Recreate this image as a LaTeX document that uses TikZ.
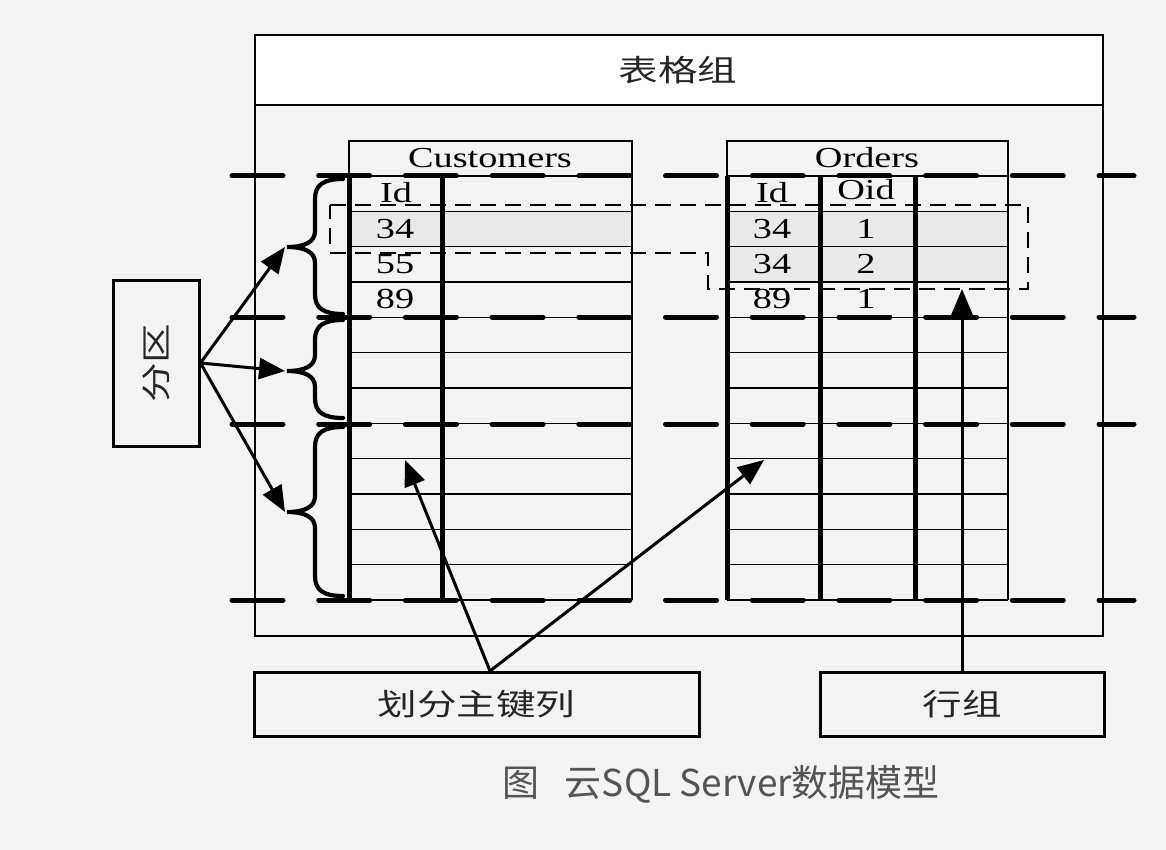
\documentclass[tikz,border=0pt]{standalone}
\usepackage{fontspec}
\usepackage{graphicx}
\setmainfont{Liberation Serif}
\newfontfamily\cjk{Noto Sans CJK SC}
\usetikzlibrary{arrows.meta}
\definecolor{bg}{HTML}{F3F3F3}
\definecolor{rowgray}{HTML}{E9E9E9}
\definecolor{captext}{HTML}{545454}
\definecolor{cjkink}{HTML}{262626}
\newcommand{\sx}[1]{\scalebox{1.32}[1]{#1}}
\tikzset{
  thinline/.style={line width=1.6pt},
  thickcol/.style={line width=5pt},
  partline/.style={line width=5pt, dash pattern=on 51pt off 35.7pt, line cap=round},
  rgline/.style={line width=1.5pt, dash pattern=on 16pt off 9pt},
  bracestyle/.style={line width=4.2pt, line cap=round},
  arr/.style={line width=3pt, -{Triangle[length=26pt,width=21pt]}},
  lat/.style={font=\fontsize{29}{30}\selectfont, inner sep=0pt},
  cjktext/.style={font=\cjk\fontsize{30}{32}\selectfont, text=cjkink, inner sep=0pt},
  labelbox/.style={draw, line width=3pt, inner sep=0pt, font=\cjk\fontsize{30}{32}\selectfont, text=cjkink},
}
\begin{document}
\begin{tikzpicture}[x=1pt,y=-1pt]
\useasboundingbox (0,0) rectangle (1166,850);
\fill[bg] (0,0) rectangle (1166,850);

% table group
\draw[thinline, fill=white] (255,35) rectangle (1103,105);
\draw[thinline] (255,105) -- (255,636) -- (1103,636) -- (1103,105);
\node[cjktext] (tg) at (678,70) {\sx{表格组}};

% gray rows
\fill[rowgray] (349,211.3) rectangle (632,246.7);
\fill[rowgray] (727,211.3) rectangle (1008,282);

% Customers table
\draw[thinline] (349,176) -- (349,141) -- (632,141) -- (632,600);
\foreach \k in {0,...,12} \draw[thinline] (349,{176+35.333*\k}) -- (632,{176+35.333*\k});
% Orders table
\draw[thinline] (727,176) -- (727,141) -- (1008,141) -- (1008,600);
\foreach \k in {0,...,12} \draw[thinline] (727,{176+35.333*\k}) -- (1008,{176+35.333*\k});

% thick columns
\foreach \x in {349,442,727,820,915} \draw[thickcol] (\x,176) -- (\x,600);

% texts
\node[lat] (cust) at (490,158) {\sx{Customers}};
\node[lat] (ord) at (867,158) {\sx{Orders}};
\node[lat] (cid) at (396,193) {\sx{Id}};
\node[lat] (c1) at (395,229) {\sx{34}};
\node[lat] (c2) at (395,264) {\sx{55}};
\node[lat] (c3) at (395,299) {\sx{89}};
\node[lat] (oid) at (772,193) {\sx{Id}};
\node[lat] (ooid) at (866,190) {\sx{Oid}};
\node[lat] (o1) at (772,229) {\sx{34}};
\node[lat] (o1b) at (866,229) {\sx{1}};
\node[lat] (o2) at (772,264) {\sx{34}};
\node[lat] (o2b) at (866,264) {\sx{2}};
\node[lat] (o3) at (772,299) {\sx{89}};
\node[lat] (o3b) at (866,299) {\sx{1}};

% row group dashed outline
\draw[rgline] (330,205) -- (1028,205) -- (1028,289) -- (708,289) -- (708,253) -- (330,253) -- cycle;

% partition lines
\foreach \y in {176,317,424,600} \draw[partline] (232,\y) -- (1134,\y);

% braces
\foreach \yt/\ym/\yb [count=\i] in {179/247/314, 320/371/418, 427/512/596} {
  \coordinate (b\i) at (285,\ym);
  \draw[bracestyle] (343,\yt) .. controls (323,\yt) and (315,{\yt+6}) .. (315,{\yt+20})
     -- (315,{\ym-16}) .. controls (315,{\ym-5}) and (305,\ym) .. (287,\ym)
     .. controls (305,\ym) and (315,{\ym+5}) .. (315,{\ym+16})
     -- (315,{\yb-20}) .. controls (315,{\yb-6}) and (323,\yb) .. (343,\yb);
}

% partition box
\node[labelbox, minimum width=86pt, minimum height=166pt] (fq) at (156,363) {};
\node[cjktext, rotate=90] (fqt) at (fq.center) {\sx{分区}};
\foreach \i in {1,2,3} \draw[arr] (fq.east) -- (b\i);

% key column box
\node[labelbox, minimum width=445pt, minimum height=64pt] (pk) at (476.5,704) {\sx{划分主键列}};
\coordinate (pka) at (490,671);
\coordinate (pkt1) at (405,460);
\coordinate (pkt2) at (764,460);
\draw[arr] (pka) -- (pkt1);
\draw[arr] (pka) -- (pkt2);

% row group box
\node[labelbox, minimum width=284pt, minimum height=64pt] (rg) at (962,704) {\sx{行组}};
\coordinate (rgt) at (962,289);
\draw[arr] (rg.north) -- (rgt);

% caption
\node[font=\cjk\fontsize{37}{40}\selectfont, text=captext, inner sep=0pt] (cap) at (721,784) {图\hspace{0.7em}云SQL Server数据模型};
\end{tikzpicture}
\end{document}
